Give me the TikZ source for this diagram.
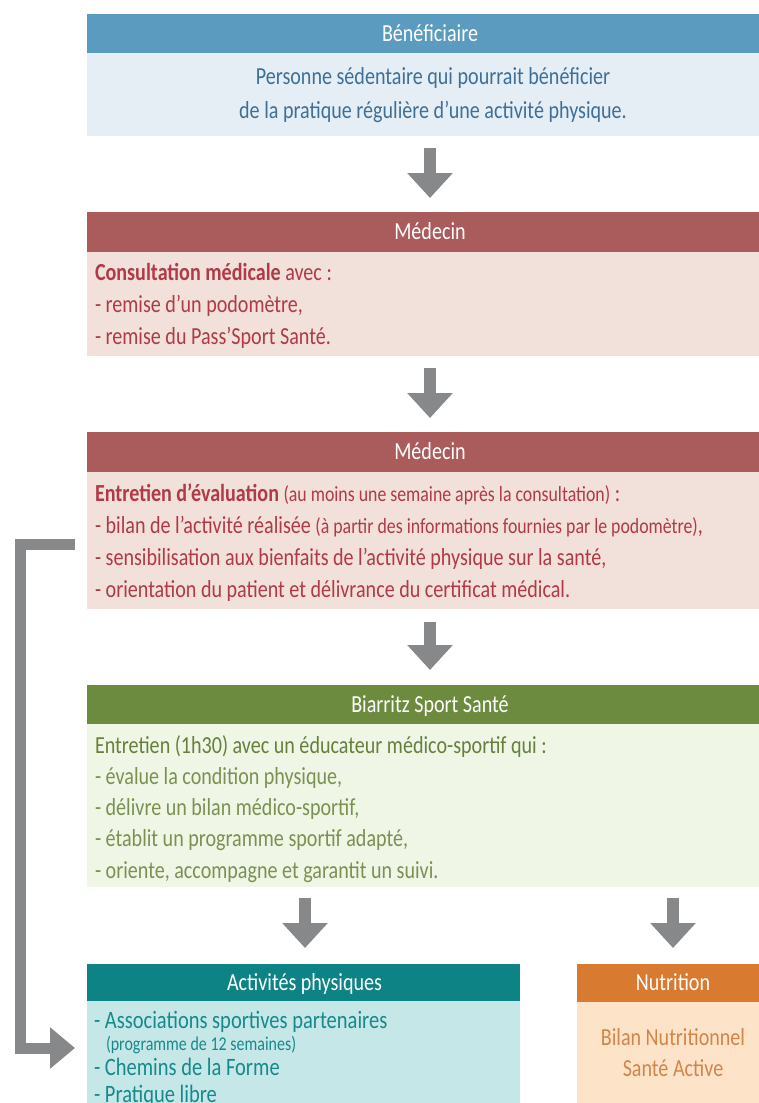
\documentclass[tikz,border=0pt]{standalone}
\usepackage{fontspec}
\setmainfont{Carlito}[FakeStretch=0.82]
\usetikzlibrary{arrows.meta,calc}
\definecolor{bluehdr}{HTML}{5A9BBF}
\definecolor{bluebody}{HTML}{E5EEF5}
\definecolor{bluetxt}{HTML}{3F6F96}
\definecolor{redhdr}{HTML}{AA5B5B}
\definecolor{redbody}{HTML}{F2E0DA}
\definecolor{redtxt}{HTML}{B03A48}
\definecolor{greenhdr}{HTML}{6D8B3E}
\definecolor{greenbody}{HTML}{EFF6E6}
\definecolor{greentxt}{HTML}{7A9152}
\definecolor{greendark}{HTML}{66803C}
\definecolor{tealhdr}{HTML}{0D8385}
\definecolor{tealbody}{HTML}{C5E7E8}
\definecolor{tealtxt}{HTML}{17898C}
\definecolor{orahdr}{HTML}{D87A30}
\definecolor{orabody}{HTML}{FDE4C9}
\definecolor{oratxt}{HTML}{D2854A}
\definecolor{arrowgray}{HTML}{87888A}
\newcommand\mainfs{\fontsize{24.5}{28}\selectfont}
\newcommand\bigfs{\fontsize{25}{29}\selectfont}
\newcommand\parfs{\fontsize{21.7}{25}\selectfont}
\newcommand\progfs{\fontsize{19.5}{22}\selectfont}
\tikzset{
  panel/.style={rectangle, draw=none, inner sep=0pt, outer sep=0pt, anchor=north west},
  hdr/.style={panel, text=white, font=\mainfs},
  txt/.style={inner sep=0pt, outer sep=0pt, font=\mainfs, yshift=-5.5pt},
  garrow/.style={draw=arrowgray, line width=12pt, -{Triangle[width=44pt,length=25pt]}},
  loopline/.style={draw=arrowgray, line width=11pt, line join=miter, -{Triangle[width=40pt,length=25pt]}}
}
\begin{document}
\begin{tikzpicture}[x=1pt,y=-1pt]
\useasboundingbox (0,0) rectangle (759,1103);
% Box 1
\node[hdr, fill=bluehdr, minimum width=672pt, minimum height=39pt] (h1) at (87,14) {};
\node[txt, text=white, anchor=mid] (h1t) at ($(h1.center)+(7,0)$) {Bénéficiaire};
\node[panel, fill=bluebody, minimum width=672pt, minimum height=83pt] (b1) at (87,53) {};
\node[txt, text=bluetxt, anchor=mid] (t1a) at (433,77) {Personne sédentaire qui pourrait bénéficier};
\node[txt, text=bluetxt, anchor=mid] (t1b) at (433,111) {de la pratique régulière d'une activité physique.};
% Box 2
\node[hdr, fill=redhdr, minimum width=672pt, minimum height=40pt] (h2) at (87,212) {};
\node[txt, text=white, anchor=mid] (h2t) at ($(h2.center)+(7,0)$) {Médecin};
\node[panel, fill=redbody, minimum width=672pt, minimum height=104pt] (b2) at (87,252) {};
\node[txt, text=redtxt, anchor=mid west] (t2a) at (95,273) {\textbf{Consultation médicale} avec :};
\node[txt, text=redtxt, anchor=mid west] (t2b) at (95,305) {- remise d'un podomètre,};
\node[txt, text=redtxt, anchor=mid west] (t2c) at (95,337) {- remise du Pass'Sport Santé.};
% Box 3
\node[hdr, fill=redhdr, minimum width=672pt, minimum height=40pt] (h3) at (87,432) {};
\node[txt, text=white, anchor=mid] (h3t) at ($(h3.center)+(7,0)$) {Médecin};
\node[panel, fill=redbody, minimum width=672pt, minimum height=137pt] (b3) at (87,472) {};
\node[txt, text=redtxt, anchor=mid west] (t3a) at (95,494) {\textbf{Entretien d'évaluation} {\parfs(au moins une semaine après la consultation)} :};
\node[txt, text=redtxt, anchor=mid west] (t3b) at (95,526) {- bilan de l'activité réalisée {\parfs(à partir des informations fournies par le podomètre)},};
\node[txt, text=redtxt, anchor=mid west] (t3c) at (95,558) {- sensibilisation aux bienfaits de l'activité physique sur la santé,};
\node[txt, text=redtxt, anchor=mid west] (t3d) at (95,590) {- orientation du patient et délivrance du certificat médical.};
% Box 4
\node[hdr, fill=greenhdr, minimum width=672pt, minimum height=39pt] (h4) at (87,685) {};
\node[txt, text=white, anchor=mid] (h4t) at ($(h4.center)+(7,0)$) {Biarritz Sport Santé};
\node[panel, fill=greenbody, minimum width=672pt, minimum height=163pt] (b4) at (87,724) {};
\node[txt, text=greendark, anchor=mid west] (t4a) at (95,746) {Entretien (1h30) avec un éducateur médico-sportif qui :};
\node[txt, text=greentxt, anchor=mid west] (t4b) at (95,777) {- évalue la condition physique,};
\node[txt, text=greentxt, anchor=mid west] (t4c) at (95,808) {- délivre un bilan médico-sportif,};
\node[txt, text=greentxt, anchor=mid west] (t4d) at (95,839) {- établit un programme sportif adapté,};
\node[txt, text=greentxt, anchor=mid west] (t4e) at (95,871) {- oriente, accompagne et garantit un suivi.};
% Box 5
\node[hdr, fill=tealhdr, minimum width=433pt, minimum height=37pt] (h5) at (87,964) {};
\node[txt, text=white, anchor=mid] (h5t) at ($(h5.center)+(1,0)$) {Activités physiques};
\node[panel, fill=tealbody, minimum width=433pt, minimum height=102pt] (b5) at (87,1001) {};
\node[txt, text=tealtxt, anchor=mid west, font=\bigfs] (t5a) at (94,1021) {- Associations sportives partenaires};
\node[txt, text=tealtxt, anchor=mid west, font=\progfs] (t5b) at (106,1043) {(programme de 12 semaines)};
\node[txt, text=tealtxt, anchor=mid west, font=\bigfs] (t5c) at (94,1068) {- Chemins de la Forme};
\node[txt, text=tealtxt, anchor=mid west, font=\bigfs] (t5d) at (94,1095) {- Pratique libre};
% Box 6
\node[hdr, fill=orahdr, minimum width=182pt, minimum height=38pt] (h6) at (577,964) {};
\node[txt, text=white, anchor=mid] (h6t) at ($(h6.center)+(5,0)$) {Nutrition};
\node[panel, fill=orabody, minimum width=182pt, minimum height=101pt] (b6) at (577,1002) {};
\node[txt, text=oratxt, anchor=mid] (t6a) at (673,1038) {Bilan Nutritionnel};
\node[txt, text=oratxt, anchor=mid] (t6b) at (673,1069) {Santé Active};
% Arrows
\draw[garrow] ($(b1.south)+(7,12)$) -- ($(h2.north)+(7,-14)$);
\draw[garrow] ($(b2.south)+(7,12)$) -- ($(h3.north)+(7,-14)$);
\draw[garrow] ($(b3.south)+(7,13)$) -- ($(h4.north)+(7,-15)$);
\draw[garrow] ($(b4.south -| h5.north)+(1.5,11)$) -- ($(h5.north)+(1.5,-16)$);
\draw[garrow] ($(b4.south -| h6.north)+(5,11)$) -- ($(h6.north)+(5,-16)$);
\coordinate (ls) at ($(b3.west)+(-12,3.5)$);
\coordinate (le) at ($(b5.west)+(-12,-4)$);
\draw[loopline] (ls) -- ++(-55,0) |- (le);
\end{tikzpicture}
\end{document}
